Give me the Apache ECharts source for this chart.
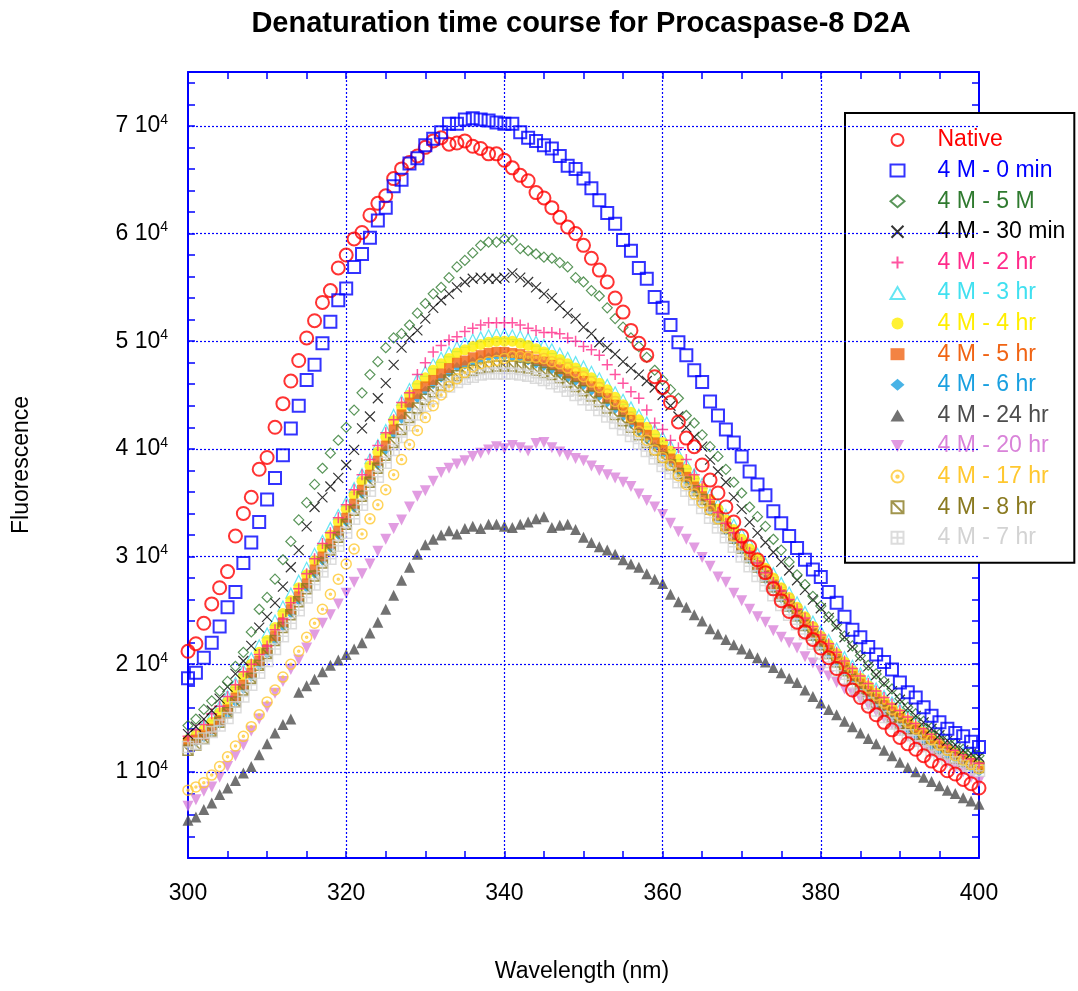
<!DOCTYPE html>
<html><head><meta charset="utf-8">
<script src="https://cdn.jsdelivr.net/npm/echarts@6/dist/echarts.min.js"></script>
<style>html,body{margin:0;padding:0;background:#fff}#c{width:1078px;height:991px}</style>
</head><body><div id="c"></div>
<script>
// Wavelength (nm), 1 nm steps
const wavelengths = [300,301,302,303,304,305,306,307,308,309,310,311,312,313,314,315,316,317,318,319,320,321,322,323,324,325,326,327,328,329,330,331,332,333,334,335,336,337,338,339,340,341,342,343,344,345,346,347,348,349,350,351,352,353,354,355,356,357,358,359,360,361,362,363,364,365,366,367,368,369,370,371,372,373,374,375,376,377,378,379,380,381,382,383,384,385,386,387,388,389,390,391,392,393,394,395,396,397,398,399,400];

// Fluorescence values in units of 1e3
const native_k = [21.2,21.9,23.8,25.6,27.1,28.6,31.9,34.0,35.5,38.1, 39.2,42.0,44.2,46.3,48.2,50.3,51.9,53.6,54.7,56.8, 58.0,59.5,60.1,61.7,62.8,63.5,65.1,66.0,66.6,67.2, 68.0,68.6,68.9,68.3,68.4,68.6,68.1,67.9,67.4,67.4, 66.8,66.1,65.4,64.9,63.8,63.3,62.4,61.5,60.6,60.0, 58.9,57.7,56.6,55.5,54.0,52.7,51.0,49.8,48.7,46.7, 45.7,44.3,42.5,41.0,40.2,38.5,37.1,35.9,34.6,33.2, 31.9,30.9,29.7,28.5,27.0,25.9,24.9,23.9,23.0,22.3, 21.5,20.6,19.6,18.6,17.6,16.9,16.1,15.3,14.6,13.9, 13.2,12.6,12.1,11.5,11.0,10.6,10.1,9.8,9.3,8.9, 8.5];
const m0min_k = [18.7,19.2,20.6,22.0,23.5,25.3,26.7,29.4,31.3,33.2, 35.3,37.3,39.4,41.9,44.0,46.4,47.8,49.8,51.8,53.8, 54.9,56.9,58.1,59.6,61.2,62.4,64.4,65.0,66.5,67.0, 68.2,68.8,69.4,70.2,70.2,70.6,70.7,70.6,70.5,70.3, 70.2,70.2,69.4,68.9,68.6,68.2,67.9,67.2,66.3,66.0, 65.1,64.2,63.1,61.9,60.9,59.4,58.4,56.8,55.8,54.1, 53.1,51.5,49.9,48.7,47.3,46.2,44.4,43.1,41.8,40.6, 39.3,37.9,36.7,35.7,34.2,33.1,31.9,30.8,29.7,28.8, 28.1,26.7,25.7,24.4,23.2,22.5,21.6,20.9,20.2,19.5, 18.3,17.4,16.9,16.0,15.2,14.6,14.0,13.6,13.3,12.8, 12.3];
const m5M_k = [14.3,14.9,15.8,16.6,17.5,18.4,19.8,21.1,23.0,25.1, 26.2,27.9,29.7,31.4,33.4,35.0,36.7,38.2,39.6,40.8, 42.0,43.6,45.2,46.9,48.1,49.4,50.3,50.7,51.5,52.6, 53.5,54.4,55.0,55.9,56.9,57.5,58.2,58.9,59.2,59.2, 59.5,59.4,58.6,58.4,58.1,57.8,57.7,57.3,56.9,55.9, 55.5,54.7,54.2,53.1,52.1,51.3,50.3,49.5,48.5,47.3, 46.4,45.5,44.7,43.1,42.4,41.3,40.2,39.3,38.1,36.9, 35.9,34.6,33.7,32.8,31.6,30.6,29.5,28.3,27.4,26.3, 25.4,24.4,23.7,22.6,21.7,20.8,19.9,19.1,18.4,17.7, 16.8,16.0,15.4,14.7,14.1,13.5,13.0,12.6,12.1,11.8, 11.5];
const m30min_k = [13.5,14.2,14.9,15.7,16.8,17.9,19.1,20.3,21.7,23.4, 24.4,25.7,27.2,29.0,30.6,32.8,34.6,35.5,36.5,37.3, 38.5,39.9,41.9,43.0,44.7,46.1,47.8,49.4,50.3,51.0, 52.1,53.1,53.8,54.4,55.0,55.5,55.8,55.9,55.8,55.8, 55.9,56.3,55.9,55.5,55.0,54.4,54.0,53.3,52.6,52.1, 51.3,50.7,49.9,49.4,48.8,48.1,47.5,46.9,46.3,45.7, 45.0,44.0,43.0,42.0,41.1,40.2,39.0,37.9,36.9,35.5, 34.4,33.2,32.2,31.3,30.4,29.5,28.7,27.8,26.9,26.0, 25.2,24.3,23.5,22.5,21.6,20.7,19.8,19.0,18.2,17.5, 16.7,15.9,15.2,14.6,14.0,13.4,12.9,12.5,12.0,11.7, 11.4];
const m2hr_k = [13.3,13.9,14.4,15.4,16.1,17.0,18.1,19.3,20.0,20.9, 21.7,23.2,24.2,25.7,27.0,28.4,29.8,31.2,32.2,33.6, 34.8,36.2,37.6,39.0,40.3,41.5,42.7,44.3,45.2,46.9, 48.0,49.0,49.6,50.1,50.4,50.9,51.2,51.5,51.7,51.7, 51.7,51.7,51.5,51.2,51.0,50.8,50.8,50.7,50.3,50.0, 49.5,49.2,48.7,47.8,46.9,46.1,45.3,44.7,43.6,42.4, 41.8,40.8,40.1,39.0,37.6,36.5,35.3,34.1,33.1,32.2, 31.3,30.4,29.4,28.5,27.6,26.8,26.0,25.1,24.3,23.5, 22.7,21.9,21.1,20.3,19.6,18.9,18.2,17.5,16.9,16.3, 15.7,15.1,14.5,14.0,13.5,13.0,12.5,12.0,11.6,11.2, 10.8];
const m3hr_k = [13.3,13.8,14.4,15.2,16.1,17.1,18.3,19.5,20.6,21.8, 22.9,24.1,25.4,26.6,27.8,29.0,30.3,31.5,32.7,33.9, 35.1,36.4,37.7,39.1,40.4,41.8,43.2,44.5,45.6,46.5, 47.2,47.9,48.5,49.0,49.5,49.9,50.2,50.4,50.6,50.7, 50.7,50.6,50.5,50.3,50.0,49.7,49.3,48.9,48.5,48.1, 47.7,47.2,46.6,46.0,45.3,44.6,43.9,43.2,42.5,41.8, 41.1,40.3,39.5,38.6,37.7,36.8,35.8,34.9,33.9,33.0, 32.1,31.2,30.3,29.4,28.5,27.6,26.7,25.8,24.9,24.0, 23.1,22.3,21.5,20.7,19.9,19.2,18.5,17.8,17.1,16.5, 15.9,15.3,14.7,14.1,13.6,13.1,12.6,12.2,11.8,11.4, 11.0];
const m4hr_k = [13.0,13.4,13.9,14.6,15.5,16.5,17.7,18.9,20.0,21.1, 22.2,23.4,24.7,25.9,27.1,28.3,29.6,30.8,32.0,33.2, 34.4,35.7,37.0,38.4,39.7,41.1,42.6,43.9,45.0,45.9, 46.6,47.3,47.9,48.4,48.9,49.2,49.5,49.7,49.9,50.0, 50.0,50.0,49.8,49.6,49.3,49.0,48.7,48.3,47.9,47.5, 47.1,46.6,46.1,45.5,44.8,44.1,43.4,42.7,42.0,41.3, 40.6,39.8,39.0,38.1,37.2,36.3,35.3,34.4,33.4,32.5, 31.6,30.7,29.8,28.9,28.0,27.1,26.2,25.3,24.4,23.5, 22.6,21.8,21.0,20.2,19.4,18.7,18.0,17.3,16.6,16.0, 15.4,14.8,14.2,13.7,13.2,12.7,12.2,11.8,11.4,11.0, 10.6];
const m5hr_k = [12.8,13.0,13.4,14.0,14.8,15.8,16.9,18.1,19.2,20.3, 21.4,22.6,23.9,25.1,26.3,27.5,28.8,30.0,31.2,32.4, 33.6,34.9,36.2,37.6,38.9,40.3,41.8,43.2,44.3,45.1, 45.8,46.4,47.0,47.5,48.0,48.2,48.5,48.7,48.9,49.0, 49.0,48.9,48.8,48.6,48.3,48.1,47.8,47.4,47.0,46.7, 46.3,45.8,45.3,44.7,44.1,43.4,42.7,42.0,41.3,40.6, 39.9,39.1,38.3,37.4,36.5,35.6,34.7,33.8,32.8,31.9, 31.0,30.1,29.2,28.3,27.4,26.5,25.6,24.7,23.8,22.9, 22.1,21.3,20.5,19.7,18.9,18.2,17.5,16.8,16.2,15.6, 15.0,14.4,13.9,13.4,12.9,12.4,12.0,11.6,11.2,10.8, 10.4];
const m6hr_k = [12.6,12.8,13.2,13.8,14.5,15.4,16.5,17.7,18.8,19.9, 21.0,22.2,23.5,24.7,25.9,27.1,28.4,29.6,30.8,32.0, 33.2,34.5,35.8,37.2,38.5,39.9,41.4,42.8,43.9,44.7, 45.4,46.0,46.6,47.1,47.6,47.8,48.1,48.3,48.5,48.6, 48.6,48.5,48.4,48.2,47.9,47.7,47.4,47.0,46.6,46.3, 45.9,45.4,44.9,44.3,43.7,43.0,42.3,41.6,40.9,40.2, 39.5,38.7,37.9,37.0,36.1,35.2,34.3,33.4,32.4,31.5, 30.6,29.7,28.8,27.9,27.0,26.1,25.2,24.3,23.4,22.5, 21.7,20.9,20.1,19.3,18.5,17.8,17.1,16.4,15.8,15.2, 14.6,14.0,13.5,13.0,12.5,12.0,11.6,11.2,10.8,10.4, 10.0];
const m24hr_k = [5.5,5.8,6.5,7.1,7.9,8.5,9.2,9.9,10.5,11.6, 12.6,13.6,14.4,14.9,17.4,18.0,18.6,19.3,19.9,20.4, 20.9,21.4,22.0,22.9,23.9,25.1,26.4,27.8,29.0,30.2, 31.1,31.6,32.0,32.4,32.1,32.6,32.8,32.6,33.0,33.0, 32.8,32.7,33.0,33.2,33.5,33.7,32.7,32.9,33.0,32.5, 31.8,31.3,30.9,30.6,30.2,29.7,29.3,29.0,28.4,27.9, 27.5,26.5,25.8,25.3,24.6,24.0,23.3,22.8,22.3,21.8, 21.4,21.0,20.6,20.2,19.7,19.2,18.7,18.3,17.6,17.0, 16.4,15.8,15.3,14.7,14.2,13.6,13.1,12.6,12.0,11.5, 10.9,10.4,10.0,9.5,9.1,8.7,8.3,8.0,7.6,7.3, 7.0];
const m20hr_k = [6.8,7.4,8.2,8.6,9.5,10.5,11.5,12.5,13.8,14.9, 16.0,17.3,18.4,19.5,20.4,21.5,22.7,23.8,24.6,25.6, 26.6,27.6,28.4,29.3,30.5,31.6,32.6,33.4,34.6,35.6, 36.1,37.0,37.8,38.2,38.6,38.9,39.3,39.6,39.9,40.2, 40.0,40.3,40.1,39.8,40.5,40.6,40.1,39.7,39.4,39.1, 38.9,38.4,38.0,37.6,37.3,36.9,36.5,35.8,35.2,34.6, 33.9,33.1,32.3,31.6,30.8,29.9,29.1,28.1,27.6,26.6, 25.9,25.1,24.4,23.9,23.1,22.5,22.0,21.5,20.7,20.1, 19.4,18.9,18.3,17.7,17.3,16.8,16.2,15.6,15.0,14.4, 13.8,13.3,12.8,12.3,11.8,11.3,10.9,10.4,10.0,9.5, 9.1];
const m17hr_k = [8.3,8.6,9.0,9.7,10.5,11.4,12.4,13.3,14.2,15.3, 16.5,17.6,18.8,20.0,21.2,22.5,23.8,25.1,26.5,27.9, 29.3,30.7,32.1,33.5,34.8,36.2,37.6,39.0,40.4,41.7, 42.9,44.0,45.0,45.8,46.5,47.1,47.6,47.9,48.1,48.2, 48.4,48.6,48.6,48.5,48.5,48.4,48.1,47.9,47.5,47.1, 46.7,46.2,45.7,45.1,44.4,43.9,42.9,41.6,40.8,39.9, 39.2,38.5,37.5,36.7,35.8,35.0,34.3,33.5,32.7,31.9, 31.1,30.3,29.5,28.8,27.9,27.0,26.1,25.2,24.3,23.4, 22.5,21.6,20.8,20.0,19.2,18.5,17.8,17.1,16.4,15.8, 15.2,14.6,14.0,13.5,13.0,12.5,12.0,11.5,11.1,10.7, 10.3];
const m8hr_k = [12.0,12.5,13.1,13.8,14.6,15.5,16.5,17.6,18.7,19.9, 21.0,22.2,23.4,24.6,25.8,27.0,28.2,29.4,30.6,31.8, 33.0,34.3,35.6,36.9,38.2,39.4,40.6,41.8,42.9,43.8, 44.6,45.3,45.9,46.4,46.8,47.1,47.3,47.5,47.6,47.7, 47.7,47.7,47.6,47.5,47.3,47.1,46.9,46.6,46.2,45.8, 45.4,44.9,44.4,43.8,43.2,42.6,42.0,41.3,40.6,39.9, 39.2,38.5,37.7,36.9,36.1,35.3,34.4,33.5,32.6,31.7, 30.8,29.9,29.0,28.1,27.2,26.3,25.4,24.5,23.6,22.7, 21.8,21.0,20.2,19.4,18.6,17.8,17.1,16.4,15.7,15.1, 14.5,14.0,13.5,13.0,12.5,12.1,11.7,11.3,11.0,10.7, 10.4];
const m7hr_k = [12.3,12.6,13.1,13.7,14.3,15.0,16.0,17.0,18.1,19.2, 20.3,21.4,22.6,23.8,25.0,26.2,27.4,28.6,29.8,31.0, 32.2,33.5,34.8,36.1,37.4,38.7,39.9,41.1,42.2,43.2, 44.0,44.7,45.3,45.8,46.2,46.5,46.7,46.9,47.0,47.0, 47.0,47.0,46.9,46.8,46.6,46.4,46.1,45.8,45.4,45.0, 44.6,44.1,43.6,43.0,42.4,41.8,41.2,40.5,39.8,39.1, 38.4,37.7,36.9,36.1,35.3,34.5,33.6,32.7,31.8,30.9, 30.0,29.1,28.2,27.3,26.4,25.5,24.6,23.7,22.8,21.9, 21.0,20.2,19.4,18.6,17.8,17.1,16.4,15.7,15.1,14.5, 13.9,13.4,12.9,12.4,12.0,11.6,11.2,10.9,10.6,10.3, 10.1];

const legendNames = ['Native','4 M - 0 min','4 M - 5 M','4 M - 30 min','4 M - 2 hr','4 M - 3 hr','4 M - 4 hr','4 M - 5 hr','4 M - 6 hr','4 M - 24 hr','4 M - 20 hr','4 M - 17 hr','4 M - 8 hr','4 M - 7 hr'];
const gridX = [320, 340, 360, 380];
const gridY = [10000, 20000, 30000, 40000, 50000, 60000, 70000];

const FONT = '"Liberation Sans", Arial, sans-serif';
const P_X = 'path://M0,0L10,10M10,0L0,10';
const P_PLUS = 'path://M5,0L5,10M0,5L10,5';
const P_CDOT = 'path://M0,5A5,5 0 1,0 10,5A5,5 0 1,0 0,5ZM4,5A1,1 0 1,0 6,5A1,1 0 1,0 4,5Z';
const P_SQD = 'path://M0,0L10,0L10,10L0,10ZM0,0L10,10';
const P_SQG = 'path://M0,0L10,0L10,10L0,10ZM5,0L5,10M0,5L10,5';
const P_TDOWN = 'path://M0,0L10,0L5,9Z';

const spec = {
  'Native':       {d: native_k, sym: 'circle', size: 13, color: '#ff0000', fill: false, bw: 2},
  '4 M - 0 min':  {d: m0min_k, sym: 'rect', size: 12, color: '#0000ff', fill: false, bw: 2},
  '4 M - 5 M':    {d: m5M_k, sym: 'diamond', size: 10, color: '#2f7a2f', fill: false, bw: 1.2},
  '4 M - 30 min': {d: m30min_k, sym: P_X, size: 10, color: '#000000', fill: false, bw: 1.2},
  '4 M - 2 hr':   {d: m2hr_k, sym: P_PLUS, size: 11, color: '#ff2a8a', fill: false, bw: 1.5},
  '4 M - 3 hr':   {d: m3hr_k, sym: 'triangle', size: 10, color: '#40e0f0', fill: false, bw: 1.2},
  '4 M - 4 hr':   {d: m4hr_k, sym: 'circle', size: 11, color: '#ffee00', fill: true},
  '4 M - 5 hr':   {d: m5hr_k, sym: 'rect', size: 10, color: '#f06414', fill: true},
  '4 M - 6 hr':   {d: m6hr_k, sym: 'diamond', size: 10, color: '#1aa0e0', fill: true},
  '4 M - 24 hr':  {d: m24hr_k, sym: 'triangle', size: 11, color: '#4d4d4d', fill: true},
  '4 M - 20 hr':  {d: m20hr_k, sym: P_TDOWN, size: 11, color: '#d983d9', fill: true},
  '4 M - 17 hr':  {d: m17hr_k, sym: P_CDOT, size: 10, color: '#ffc830', fill: false, bw: 1.5},
  '4 M - 8 hr':   {d: m8hr_k, sym: P_SQD, size: 10, color: '#8a7a20', fill: false, bw: 1.5},
  '4 M - 7 hr':   {d: m7hr_k, sym: P_SQG, size: 11, color: '#d3d3d3', fill: false, bw: 1.5}
};

// drawing order (first = bottom)
const drawOrder = ['4 M - 24 hr','4 M - 20 hr','4 M - 3 hr','4 M - 6 hr','4 M - 4 hr','4 M - 5 hr','4 M - 8 hr','4 M - 7 hr','4 M - 17 hr','4 M - 2 hr','4 M - 30 min','4 M - 5 M','Native','4 M - 0 min'];

const series = [{
  type: 'line', data: [], z: 1, silent: true,
  markLine: {
    silent: true, symbol: ['none','none'], animation: false,
    label: {show: false},
    lineStyle: {color: '#0000ff', type: [2, 2], width: 1.2},
    data: gridX.map(v => ({xAxis: v})).concat(gridY.map(v => ({yAxis: v})))
  }
}];
drawOrder.forEach((name, i) => {
  const s = spec[name];
  series.push({
    name: name, type: 'scatter', z: 2 + i,
    symbol: s.sym, symbolSize: s.size,
    data: wavelengths.map((w, j) => [w, s.d[j] * 1000]),
    itemStyle: s.fill ? {color: s.color, borderWidth: 0} : {color: 'none', borderColor: s.color, borderWidth: s.bw},
    emphasis: {disabled: true}
  });
});

const axisLineStyle = {color: '#0000ff', width: 2};
const tickStyle = {inside: true, length: 7, lineStyle: {color: '#0000ff', width: 1.5}};

const option = {
  animation: false,
  backgroundColor: '#ffffff',
  grid: {left: 188, right: 99, top: 72, bottom: 133, containLabel: false},
  xAxis: [
    {type: 'value', min: 300, max: 400, interval: 5, position: 'bottom',
     axisLine: {show: true, lineStyle: axisLineStyle}, axisTick: tickStyle,
     axisLabel: {formatter: v => (v % 20 === 0 ? String(v) : ''), fontSize: 23, fontFamily: FONT, color: '#000', margin: 24},
     splitLine: {show: false}},
    {type: 'value', min: 300, max: 400, interval: 5, position: 'top',
     axisLine: {show: true, lineStyle: axisLineStyle}, axisTick: tickStyle,
     axisLabel: {show: false}, splitLine: {show: false}}
  ],
  yAxis: [
    {type: 'value', min: 2000, max: 75000, interval: 2000, position: 'left',
     axisLine: {show: true, lineStyle: axisLineStyle}, axisTick: tickStyle,
     axisLabel: {
       margin: 20,
       formatter: v => (v % 10000 === 0 ? '{n|' + (v / 10000) + ' 10}{s|4}' : ''),
       rich: {
         n: {fontSize: 23, fontFamily: FONT, color: '#000', lineHeight: 26},
         s: {fontSize: 14, fontFamily: FONT, color: '#000', verticalAlign: 'top', lineHeight: 14}
       }
     },
     splitLine: {show: false}},
    {type: 'value', min: 2000, max: 75000, interval: 2000, position: 'right',
     axisLine: {show: true, lineStyle: axisLineStyle}, axisTick: tickStyle,
     axisLabel: {show: false}, splitLine: {show: false}}
  ],
  legend: {
    orient: 'vertical', left: 845, top: 113,
    itemWidth: 14, itemHeight: 12, itemGap: 4.6,
    padding: [14, 9, 12, 43],
    backgroundColor: '#ffffff', borderColor: '#000000', borderWidth: 2,
    selectedMode: false,
    textStyle: {fontSize: 23, fontFamily: FONT, lineHeight: 26, padding: [0, 0, 0, 28]},
    data: legendNames.map(n => ({name: n, textStyle: {color: spec[n].color}}))
  },
  graphic: [
    {type: 'text', x: 581, y: 24, style: {text: 'Denaturation time course for Procaspase-8 D2A', font: 'bold 29px ' + FONT, fill: '#000', align: 'center', verticalAlign: 'middle'}},
    {type: 'text', x: 22, y: 465, rotation: Math.PI / 2, style: {text: 'Fluorescence', font: '23px ' + FONT, fill: '#000', align: 'center', verticalAlign: 'middle'}},
    {type: 'text', x: 582, y: 972, style: {text: 'Wavelength (nm)', font: '23px ' + FONT, fill: '#000', align: 'center', verticalAlign: 'middle'}}
  ],
  series: series
};

const chart = echarts.init(document.getElementById('c'), null, {renderer: 'canvas'});
chart.setOption(option);
</script>
</body></html>
